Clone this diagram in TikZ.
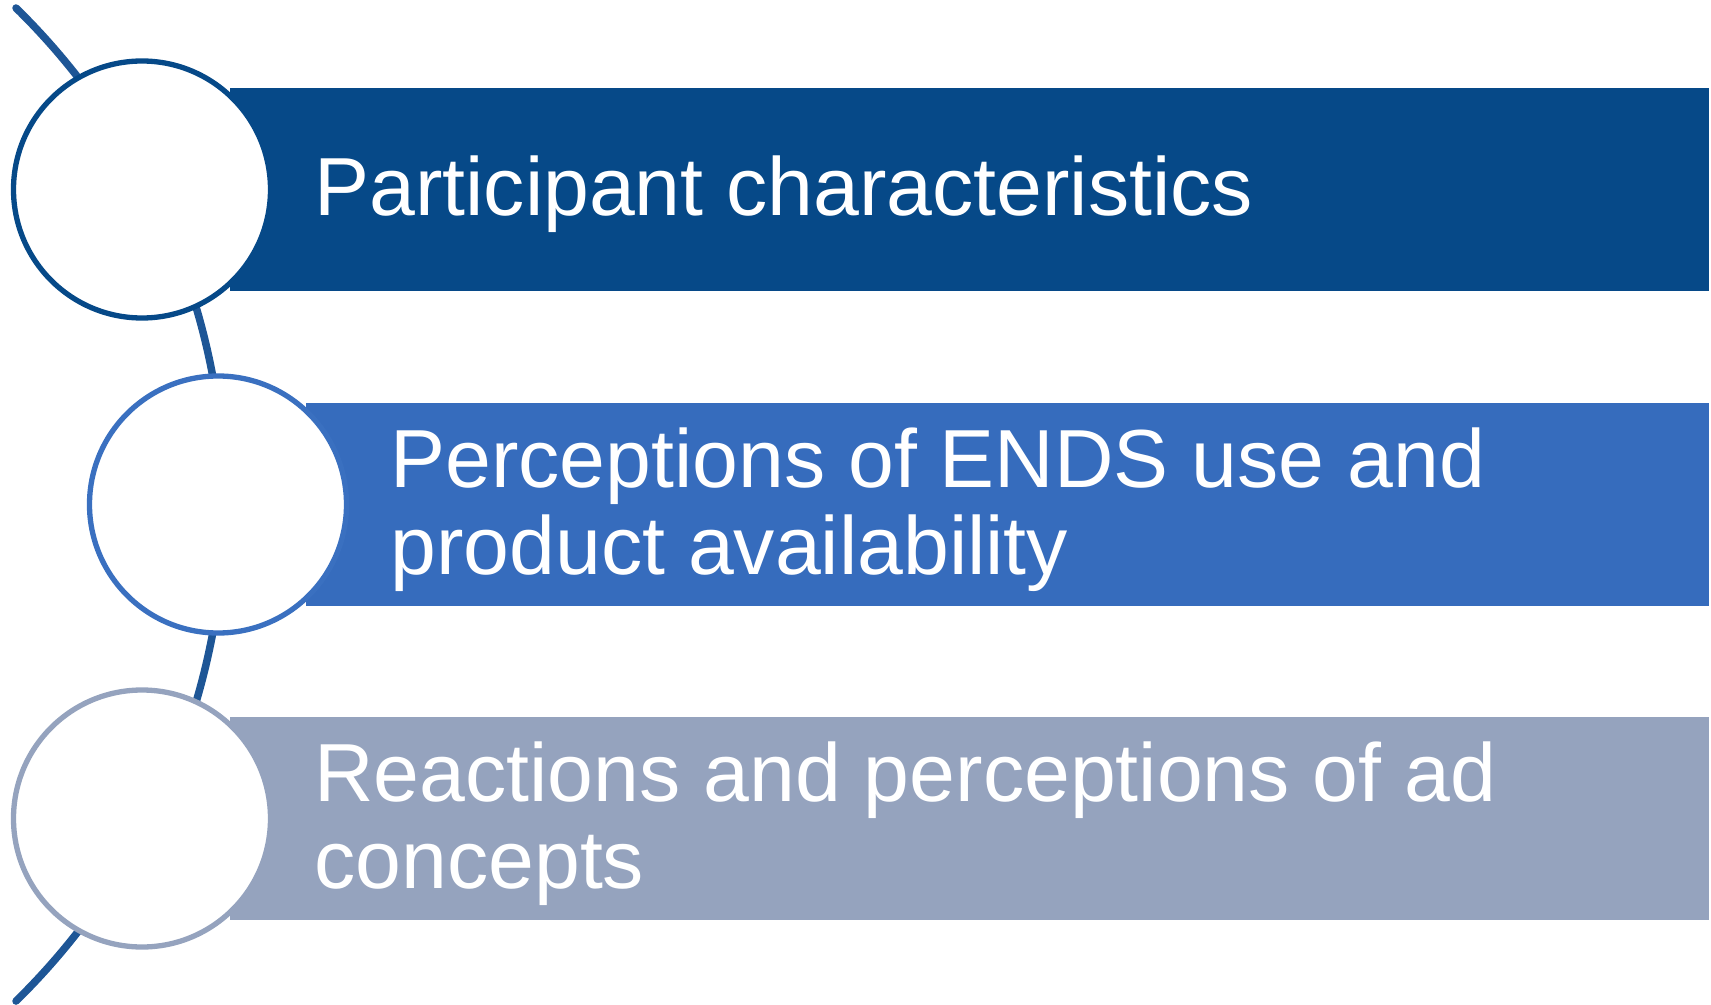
\documentclass[tikz,border=0pt]{standalone}
\usepackage{fontspec}
\setmainfont{Liberation Sans}
\usepackage{tikz}

\definecolor{spineblue}{RGB}{30,86,150}
\definecolor{darkblue}{RGB}{6,73,136}
\definecolor{midblue}{RGB}{54,108,189}
\definecolor{greyblue}{RGB}{149,163,190}
\definecolor{ringmid}{RGB}{58,112,192}

\begin{document}
\begin{tikzpicture}[
		x=0.5pt, y=-0.5pt,
		spine/.style={draw=spineblue,line width=3.75pt,line cap=round},
		ring/.style={circle,draw=#1,line width=2.65pt,fill=white,inner sep=0pt,minimum size=128.5pt},
		label text/.style={anchor=west,inner sep=0pt,align=left,text=white,
			font=\fontsize{41.2}{43.5}\selectfont},
]

\def\barR{1709}
\def\barH{101.5}

\useasboundingbox (0,0) rectangle (1711,1005);

% the long arc behind the circles
\draw [spine] (16,8) arc [start angle=-45.6, end angle=45.6, radius=695];

\newcommand*{\stage}[6]{%
	% #1 = circle x, #2 = circle y
	% #3 = bar colour, #4 = ring colour
	\fill [#3] (#1+88, #2-\barH) rectangle (\barR, #2+\barH);
	\node [ring=#4] (#5) at (#1, #2) {};
	\node [label text] (#5-text) at (#1+172, #2+5) {#6};
}

\stage{142}{189.5}{darkblue}{darkblue}{part}{Participant characteristics}
\stage{218}{504.5}{midblue}{ringmid}{ends}{Perceptions of ENDS use and\\product availability}
\stage{142}{818.5}{greyblue}{greyblue}{react}{Reactions and perceptions of ad\\concepts}

\end{tikzpicture}
\end{document}
